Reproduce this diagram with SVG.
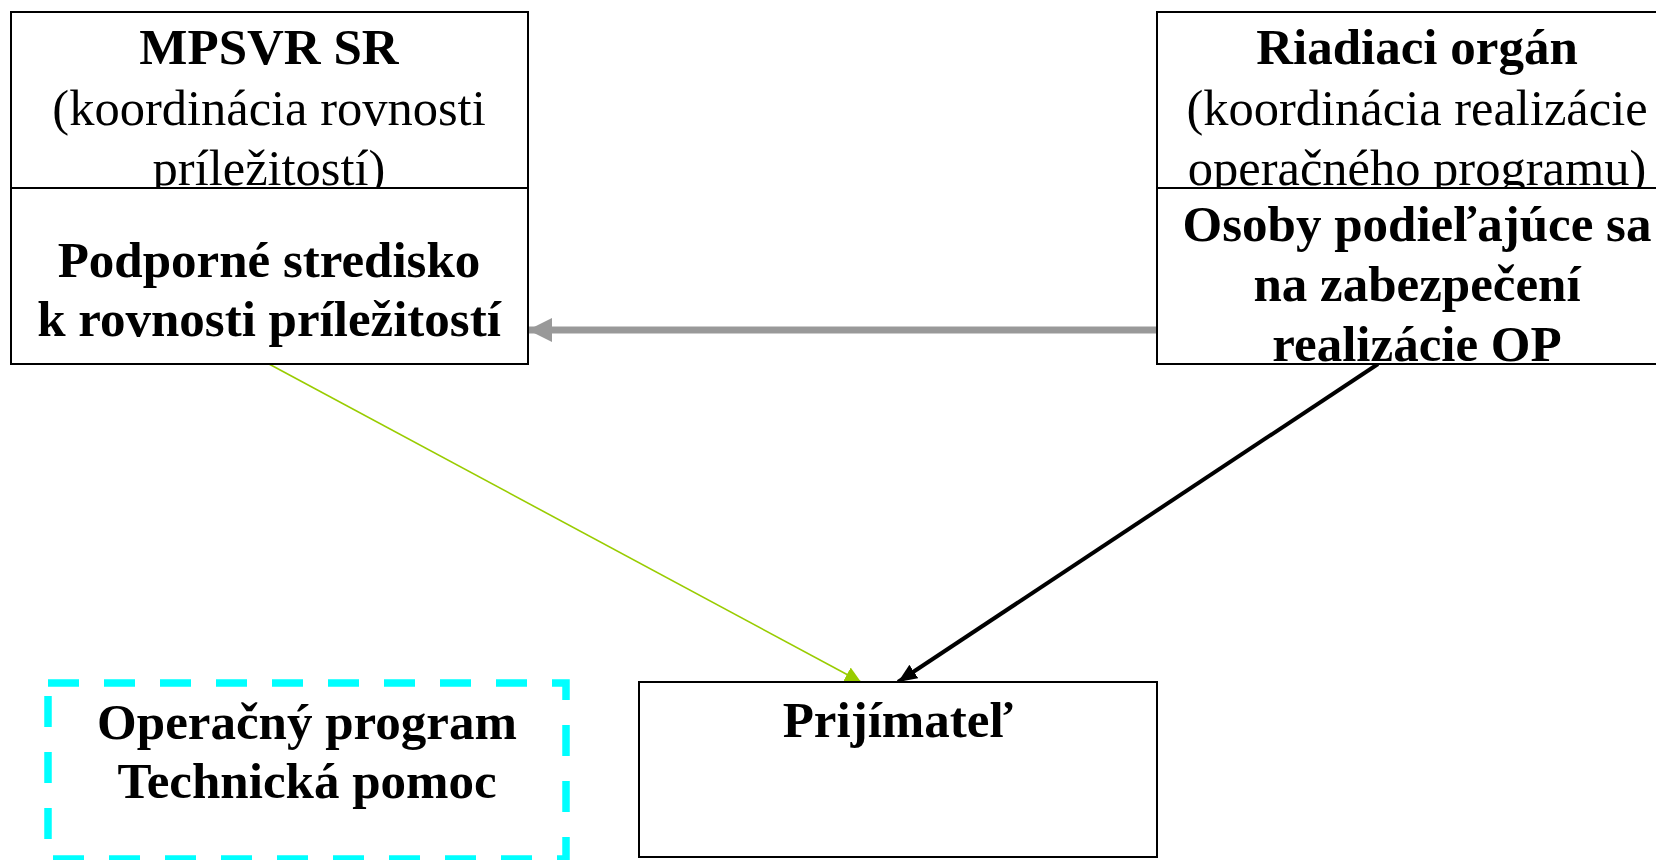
<svg xmlns="http://www.w3.org/2000/svg" width="1656" height="860" viewBox="0 0 1656 860">
<style>
.box{fill:#fff;stroke:#000;stroke-width:2}
.t{font-family:"Liberation Serif","Times New Roman",serif;font-size:50.5px;text-anchor:middle;fill:#000}
.b{font-weight:bold;font-size:51px}
</style>
<defs>
<marker id="ahGray" markerUnits="userSpaceOnUse" markerWidth="25" markerHeight="25" refX="24" refY="12.5" orient="auto" viewBox="0 0 25 25"><path d="M0,0.5 L24,12.5 L0,24.5 Z" fill="#999"/></marker>
<marker id="ahGreen" markerUnits="userSpaceOnUse" markerWidth="17" markerHeight="17" refX="16" refY="8.5" orient="auto" viewBox="0 0 17 17"><path d="M0,0.5 L16,8.5 L0,16.5 Z" fill="#99cc00"/></marker>
<marker id="ahBlack" markerUnits="userSpaceOnUse" markerWidth="20" markerHeight="18" refX="19" refY="9" orient="auto" viewBox="0 0 20 18"><path d="M0,1 L19,9 L0,17 Z" fill="#000"/></marker>
</defs>
<g id="connectors">
<line x1="1157" y1="330" x2="528" y2="330" stroke="#999" stroke-width="7" marker-end="url(#ahGray)"/>
<line x1="269" y1="364" x2="861" y2="682" stroke="#99cc00" stroke-width="1.6" marker-end="url(#ahGreen)"/>
<line x1="1378" y1="364" x2="898" y2="682" stroke="#000" stroke-width="4" marker-end="url(#ahBlack)"/>
</g>
<g id="mpsvr">
<rect class="box" x="11" y="12" width="517" height="176"/>
<text class="t b" x="269" y="64">MPSVR SR</text>
<text class="t" x="269" y="124.5">(koordinácia rovnosti</text>
<text class="t" x="269" y="185">príležitostí)</text>
</g>
<g id="podporne">
<rect class="box" x="11" y="188" width="517" height="176"/>
<text class="t b" x="269" y="277">Podporné stredisko</text>
<text class="t b" x="269" y="336">k rovnosti príležitostí</text>
</g>
<g id="riadiaci">
<rect class="box" x="1157" y="12" width="520" height="176"/>
<text class="t b" x="1417" y="64">Riadiaci orgán</text>
<text class="t" x="1417" y="124.5">(koordinácia realizácie</text>
<text class="t" x="1417" y="185">operačného programu)</text>
</g>
<g id="osoby">
<rect class="box" x="1157" y="188" width="520" height="176"/>
<text class="t b" x="1417" y="241">Osoby podieľajúce sa</text>
<text class="t b" x="1417" y="301">na zabezpečení</text>
<text class="t b" x="1417" y="361">realizácie OP</text>
</g>
<g id="prijimatel">
<rect class="box" x="639" y="682" width="518" height="175"/>
<text class="t b" x="898" y="737">Prijímateľ</text>
</g>
<g id="op-tp">
<rect x="48" y="683" width="518" height="176" fill="none" stroke="#00ffff" stroke-width="7.5" stroke-dasharray="31 25"/>
<text class="t b" x="307" y="739">Operačný program</text>
<text class="t b" x="307" y="798">Technická pomoc</text>
</g>
</svg>
